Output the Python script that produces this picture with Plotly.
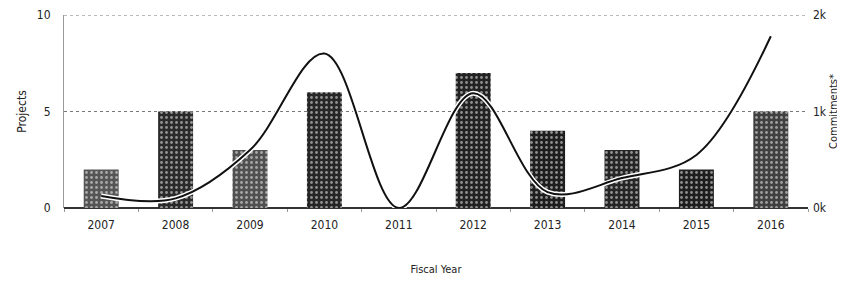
import plotly.graph_objects as go

years = ["2007", "2008", "2009", "2010", "2011", "2012", "2013", "2014", "2015", "2016"]
projects = [2, 5, 3, 6, 0, 7, 4, 3, 2, 5]
commitments = [125, 100, 600, 1600, 0, 1190, 165, 310, 550, 1780]

left_ticks = [0, 5, 10]
left_labels = ["0", "5", "10"]
right_ticks = [0, 1000, 2000]
right_labels = ["0k", "1k", "2k"]

bar_colors = ["#555555", "#2a2a2a", "#505050", "#262626", "#262626",
              "#222222", "#1e1e1e", "#262626", "#1e1e1e", "#404040"]

FONT = "Liberation Sans Narrow, Arial Narrow, DejaVu Sans Condensed, sans-serif"

fig = go.Figure()
fig.add_trace(go.Bar(
    x=years, y=projects, width=0.47,
    marker=dict(color=bar_colors, line=dict(width=0),
                pattern=dict(shape=".", fgcolor="#d8d8d8", size=5, solidity=0.25)),
    yaxis="y", showlegend=False,
))
fig.add_trace(go.Scatter(
    x=years, y=commitments, mode="lines", yaxis="y2",
    line=dict(color="white", width=5, shape="spline", smoothing=1.0),
    showlegend=False, hoverinfo="skip",
))
fig.add_trace(go.Scatter(
    x=years, y=commitments, mode="lines", yaxis="y2",
    line=dict(color="#111111", width=2, shape="spline", smoothing=1.0),
    showlegend=False,
))

fig.add_shape(type="line", xref="paper", yref="y", x0=0, x1=1, y0=10, y1=10,
              line=dict(color="#777777", width=1, dash="dot"), layer="below")

fig.update_layout(
    width=837, height=274,
    margin=dict(l=56, r=37, t=7, b=74),
    paper_bgcolor="white", plot_bgcolor="white",
    font=dict(family=FONT, size=12, color="#222222"),
    xaxis=dict(
        type="category", showgrid=False, showline=False, automargin=False,
        ticks="outside", tickson="boundaries", ticklen=3, tickcolor="#999999",
        tickfont=dict(size=12, family=FONT), zeroline=False, ticklabelstandoff=8,
        title=dict(text="Fiscal Year", font=dict(size=11, family=FONT), standoff=34),
    ),
    yaxis=dict(
        range=[0, 10], tickvals=left_ticks, ticktext=left_labels, automargin=False,
        showgrid=True, gridcolor="#777777", griddash="dot", gridwidth=1,
        zeroline=True, zerolinecolor="#333333", zerolinewidth=1.5,
        showline=True, linecolor="#999999", linewidth=1,
        tickfont=dict(size=12, family=FONT), ticks="", ticklabelstandoff=10,
        title=dict(text="Projects", font=dict(size=12, family=FONT), standoff=7),
    ),
    yaxis2=dict(
        range=[0, 2000], tickvals=right_ticks, ticktext=right_labels, automargin=False,
        overlaying="y", side="right", showgrid=False, zeroline=False,
        showline=False, tickfont=dict(size=12, family=FONT), ticklabelstandoff=4,
        title=dict(text="Commitments*", font=dict(size=11, family=FONT), standoff=2),
    ),
)

fig.write_html("out.html")
